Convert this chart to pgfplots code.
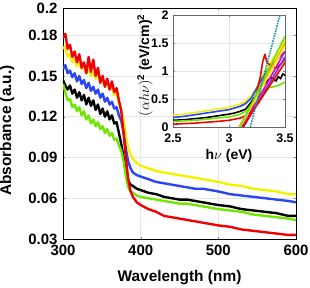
\documentclass[border=0pt]{standalone}
\usepackage{pgfplots}
\pgfplotsset{compat=1.18}
\usepackage{amsmath}
\usepackage{fontspec}
\setmainfont{Liberation Sans}
\definecolor{cred}{RGB}{240,0,0}
\definecolor{cyel}{RGB}{245,240,0}
\definecolor{cblue}{RGB}{40,70,245}
\definecolor{cgreen}{RGB}{110,230,0}
\definecolor{corange}{RGB}{255,165,0}
\definecolor{cmag}{RGB}{225,0,200}
\definecolor{cpurp}{RGB}{120,50,210}
\definecolor{cteal}{RGB}{30,150,150}
\begin{document}
\begin{tikzpicture}
\useasboundingbox (-63bp,-49bp) rectangle (247bp,239bp);
\begin{axis}[
  at={(0,0)}, anchor=south west,
  scale only axis, width=233bp, height=231bp,
  xmin=300, xmax=600, ymin=0.03, ymax=0.2,
  xtick={300,400,500,600},
  ytick={0.03,0.06,0.09,0.12,0.15,0.18,0.2},
  grid=major, grid style={gray!20, line width=0.5pt},
  major tick length=2pt,
  axis line style={black, line width=0.6pt},
  tick label style={font=\fontsize{15}{15}\selectfont\bfseries},
  xticklabel style={yshift=-3bp},
  yticklabel style={xshift=-2bp},
  /pgf/number format/assume math mode=true,
  yticklabel style={/pgf/number format/.cd, fixed, precision=2},
  xlabel={Wavelength (nm)}, ylabel={Absorbance (a.u.)},
  label style={font=\fontsize{15.5}{15.5}\selectfont\bfseries},
  xlabel style={at={(axis description cs:0.5,-0.165)}, anchor=center},
  ylabel style={at={(axis description cs:-0.24,0.47)}, anchor=center, rotate=0},
  every axis plot/.append style={line width=2.4pt, line join=round},
]
\addplot[cyel] coordinates {(300,0.170)(303,0.172)(306,0.164)(309,0.166)(312,0.160)(315,0.163)(318,0.157)(321,0.160)(324,0.155)(327,0.158)(330,0.152)(333,0.156)(336,0.150)(339,0.153)(342,0.148)(345,0.151)(348,0.145)(351,0.148)(354,0.142)(357,0.145)(360,0.140)(363,0.142)(366,0.136)(369,0.137)(372,0.130)(375,0.126)(378,0.118)(381,0.106)(384,0.097)(387,0.092)(390,0.089)(395,0.086)(400,0.084)(410,0.082)(420,0.080)(430,0.079)(440,0.078)(450,0.077)(460,0.076)(470,0.075)(480,0.074)(490,0.073)(500,0.072)(515,0.070)(530,0.069)(545,0.067)(560,0.066)(575,0.065)(590,0.063)(600,0.063)};
\addplot[cblue] coordinates {(300,0.155)(303,0.158)(306,0.152)(309,0.154)(312,0.149)(315,0.152)(318,0.146)(321,0.150)(324,0.144)(327,0.147)(330,0.141)(333,0.145)(336,0.139)(339,0.142)(342,0.137)(345,0.140)(348,0.134)(351,0.137)(354,0.131)(357,0.134)(360,0.129)(363,0.131)(366,0.126)(369,0.127)(372,0.121)(375,0.117)(378,0.108)(381,0.096)(384,0.087)(387,0.082)(390,0.079)(395,0.077)(400,0.076)(410,0.074)(420,0.072)(430,0.071)(440,0.070)(450,0.069)(460,0.068)(470,0.067)(480,0.067)(490,0.066)(500,0.065)(515,0.063)(530,0.062)(545,0.061)(560,0.060)(575,0.059)(590,0.058)(600,0.057)};
\addplot[black] coordinates {(300,0.147)(303,0.143)(306,0.140)(309,0.143)(312,0.137)(315,0.140)(318,0.134)(321,0.138)(324,0.132)(327,0.136)(330,0.129)(333,0.134)(336,0.128)(339,0.132)(342,0.125)(345,0.129)(348,0.122)(351,0.126)(354,0.120)(357,0.124)(360,0.118)(363,0.121)(366,0.115)(369,0.116)(372,0.108)(375,0.100)(378,0.090)(381,0.080)(384,0.073)(387,0.070)(390,0.069)(395,0.067)(400,0.066)(410,0.064)(420,0.063)(430,0.061)(440,0.060)(450,0.059)(460,0.059)(470,0.058)(480,0.057)(490,0.056)(500,0.055)(515,0.054)(530,0.052)(545,0.051)(560,0.050)(575,0.049)(590,0.047)(600,0.047)};
\addplot[cgreen] coordinates {(300,0.144)(303,0.138)(306,0.132)(309,0.133)(312,0.127)(315,0.129)(318,0.124)(321,0.127)(324,0.121)(327,0.124)(330,0.118)(333,0.121)(336,0.115)(339,0.118)(342,0.113)(345,0.116)(348,0.111)(351,0.113)(354,0.108)(357,0.111)(360,0.106)(363,0.108)(366,0.103)(369,0.104)(372,0.099)(375,0.095)(378,0.087)(381,0.076)(384,0.068)(387,0.065)(390,0.064)(395,0.062)(400,0.061)(410,0.060)(420,0.059)(430,0.058)(440,0.057)(450,0.056)(460,0.056)(470,0.055)(480,0.054)(490,0.053)(500,0.052)(515,0.051)(530,0.050)(545,0.048)(560,0.047)(575,0.046)(590,0.045)(600,0.044)};
\addplot[cred] coordinates {(300,0.178)(303,0.181)(306,0.170)(309,0.173)(312,0.164)(315,0.168)(318,0.160)(321,0.166)(324,0.156)(327,0.160)(330,0.152)(333,0.164)(336,0.153)(339,0.162)(342,0.150)(345,0.156)(348,0.145)(351,0.150)(354,0.142)(357,0.148)(360,0.140)(363,0.146)(366,0.138)(369,0.141)(372,0.132)(375,0.124)(378,0.108)(381,0.089)(384,0.074)(387,0.065)(390,0.061)(395,0.057)(400,0.055)(410,0.052)(420,0.050)(430,0.047)(440,0.046)(450,0.045)(460,0.044)(470,0.043)(480,0.042)(490,0.041)(500,0.040)(515,0.039)(530,0.037)(545,0.036)(560,0.035)(575,0.034)(590,0.033)(600,0.033)};
\end{axis}
\begin{axis}[
  at={(110bp,112bp)}, anchor=south west,
  scale only axis, width=112bp, height=112bp,
  xmin=2.5, xmax=3.5, ymin=0, ymax=2,
  xtick={2.5,3,3.5}, ytick={0,0.5,1,1.5,2},
  grid=major, grid style={gray!20, line width=0.5pt},
  major tick length=2pt,
  axis background/.style={fill=white},
  axis line style={black!60, line width=0.6pt},
  tick label style={font=\fontsize{12.5}{12.5}\selectfont\bfseries},
  xticklabel style={yshift=-3bp},
  yticklabel style={xshift=-1bp},
  /pgf/number format/assume math mode=true,
  xlabel={\textbf{h}$\nu$ \textbf{(eV)}},
  ylabel={$(\alpha h\nu)^{\textbf{2}}$ \textbf{(eV/cm)}$^{\textbf{2}}$},
  label style={font=\fontsize{14}{14}\selectfont\bfseries},
  xlabel style={at={(axis description cs:0.5,-0.255)}, anchor=center},
  ylabel style={at={(axis description cs:-0.25,0.55)}, anchor=center},
  every axis plot/.append style={line width=1.6pt, line join=round},
  clip=true,
]
\addplot[cyel] coordinates {(2.5,0.21)(2.6,0.23)(2.7,0.26)(2.8,0.29)(2.9,0.32)(3.0,0.35)(3.05,0.38)(3.1,0.41)(3.15,0.46)(3.2,0.56)(3.25,0.72)(3.3,0.92)(3.35,1.08)(3.4,1.25)(3.45,1.4)(3.5,1.55)};
\addplot[cblue] coordinates {(2.5,0.17)(2.6,0.19)(2.7,0.22)(2.8,0.25)(2.9,0.28)(3.0,0.31)(3.05,0.34)(3.1,0.37)(3.15,0.42)(3.2,0.52)(3.25,0.7)(3.3,0.88)(3.35,1.02)(3.4,1.15)(3.45,1.25)(3.5,1.35)};
\addplot[black] coordinates {(2.5,0.12)(2.6,0.13)(2.7,0.15)(2.8,0.17)(2.9,0.2)(3.0,0.23)(3.05,0.25)(3.1,0.28)(3.15,0.32)(3.2,0.45)(3.25,0.6)(3.3,0.75)(3.35,0.84)(3.38,0.88)(3.42,0.82)(3.44,0.9)(3.46,0.86)(3.48,0.95)(3.5,0.92)};
\addplot[cgreen] coordinates {(2.5,0.1)(2.6,0.11)(2.7,0.12)(2.8,0.14)(2.9,0.16)(3.0,0.18)(3.05,0.2)(3.1,0.23)(3.15,0.28)(3.2,0.4)(3.25,0.53)(3.3,0.65)(3.35,0.7)(3.4,0.72)(3.45,0.75)(3.5,0.8)};
\addplot[cred] coordinates {(2.5,0.05)(2.6,0.06)(2.7,0.07)(2.8,0.085)(2.9,0.1)(3.0,0.12)(3.05,0.14)(3.1,0.16)(3.15,0.2)(3.2,0.3)(3.24,0.55)(3.28,0.9)(3.3,1.15)(3.32,1.3)(3.34,1.15)(3.37,1.1)(3.42,1.05)(3.46,1.12)(3.5,1.2)};
\addplot[corange] coordinates {(3.09,0)(3.5,1.5)};
\addplot[cyel] coordinates {(3.1,0)(3.5,1.45)};
\addplot[cgreen] coordinates {(3.1,0)(3.5,1.62)};
\addplot[cpurp] coordinates {(3.13,0)(3.5,1.25)};
\addplot[cmag] coordinates {(3.12,0)(3.5,1.35)};
\addplot[cred] coordinates {(3.12,0)(3.5,1.15)};
\addplot[cteal, densely dotted, line width=1.6pt] coordinates {(3.19,0)(3.455,2.0)};
\end{axis}
\end{tikzpicture}
\end{document}
